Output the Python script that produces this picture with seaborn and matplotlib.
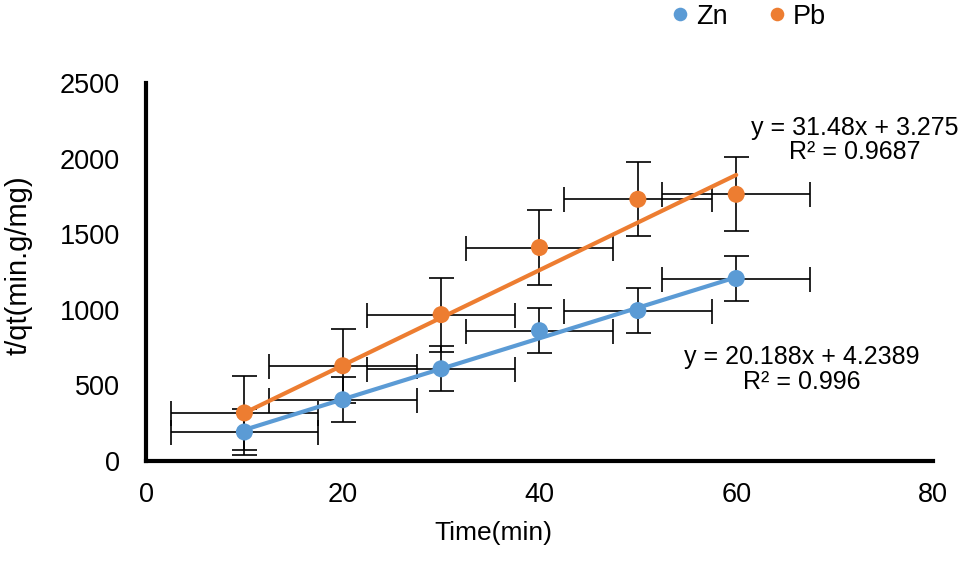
import numpy as np
import pandas as pd
import matplotlib
matplotlib.use("Agg")
import matplotlib.pyplot as plt
import seaborn as sns

# Data
time_min = [10, 20, 30, 40, 50, 60]
zn_tqt = [192, 405, 610, 862, 995, 1207]
pb_tqt = [318, 630, 968, 1412, 1731, 1764]
x_err = 7.5
zn_yerr = 150
pb_yerr = 245

# trendline coefficients printed on the chart
zn_fit = (20.188, 4.2389)
pb_fit = (31.48, 3.275)
zn_label = "y = 20.188x + 4.2389\nR² = 0.996"
pb_label = "y = 31.48x + 3.275\nR² = 0.9687"

blue = "#5B9BD5"
orange = "#ED7D31"

sns.set_style("white")
plt.rcParams["font.family"] = ["Liberation Sans", "DejaVu Sans"]
plt.rcParams.update({"text.color": "black", "axes.labelcolor": "black",
                     "xtick.color": "black", "ytick.color": "black"})

df = pd.DataFrame({
    "Time": time_min * 2,
    "tqt": zn_tqt + pb_tqt,
    "Metal": ["Zn"] * len(time_min) + ["Pb"] * len(time_min),
})

fig = plt.figure(figsize=(9.69, 5.62), dpi=100)
ax = fig.add_axes([0.1507, 0.1797, 0.8121, 0.6726])

# error bars
for vals, yerr in [(zn_tqt, zn_yerr), (pb_tqt, pb_yerr)]:
    ax.errorbar(time_min, vals, xerr=x_err, yerr=yerr, fmt="none",
                ecolor="black", elinewidth=1.2, capsize=9, capthick=1.2, zorder=2)

# linear trendlines
xs = np.array([time_min[0], time_min[-1]])
sns.lineplot(x=xs, y=zn_fit[0] * xs + zn_fit[1], color=blue, linewidth=3, ax=ax, zorder=3)
sns.lineplot(x=xs, y=pb_fit[0] * xs + pb_fit[1], color=orange, linewidth=3, ax=ax, zorder=3)

sns.scatterplot(data=df, x="Time", y="tqt", hue="Metal", palette={"Zn": blue, "Pb": orange},
                s=150, edgecolor="none", ax=ax, zorder=4)

ax.set_xlim(0, 80)
ax.set_ylim(0, 2500)
ax.set_xticks([0, 20, 40, 60, 80])
ax.set_yticks([0, 500, 1000, 1500, 2000, 2500])
ax.tick_params(axis="x", length=0, pad=15, labelsize=19.5)
ax.tick_params(axis="y", length=0, pad=19, labelsize=19.5)

for side in ["top", "right"]:
    ax.spines[side].set_visible(False)
for side in ["left", "bottom"]:
    ax.spines[side].set_linewidth(3)
    ax.spines[side].set_color("black")

ax.set_xlabel("Time(min)", fontsize=19)
ax.set_ylabel("t/qt(min.g/mg)", fontsize=21)
ax.xaxis.set_label_coords(0.4416, -0.159)
ax.yaxis.set_label_coords(-0.144, 0.519)

ax.text(72, 2123, pb_label, ha="center", va="center", fontsize=18, linespacing=1.05)
ax.text(66.7, 608, zn_label, ha="center", va="center", fontsize=18, linespacing=1.05)

handles, labels = ax.get_legend_handles_labels()
ax.legend(handles, labels, loc="center", bbox_to_anchor=(0.773, 0.97),
          bbox_transform=fig.transFigure, ncol=2, frameon=False, fontsize=19.5,
          handlelength=0.6, handletextpad=0.3, columnspacing=1.5, markerscale=0.8)

fig.savefig("out.png", dpi=100)
